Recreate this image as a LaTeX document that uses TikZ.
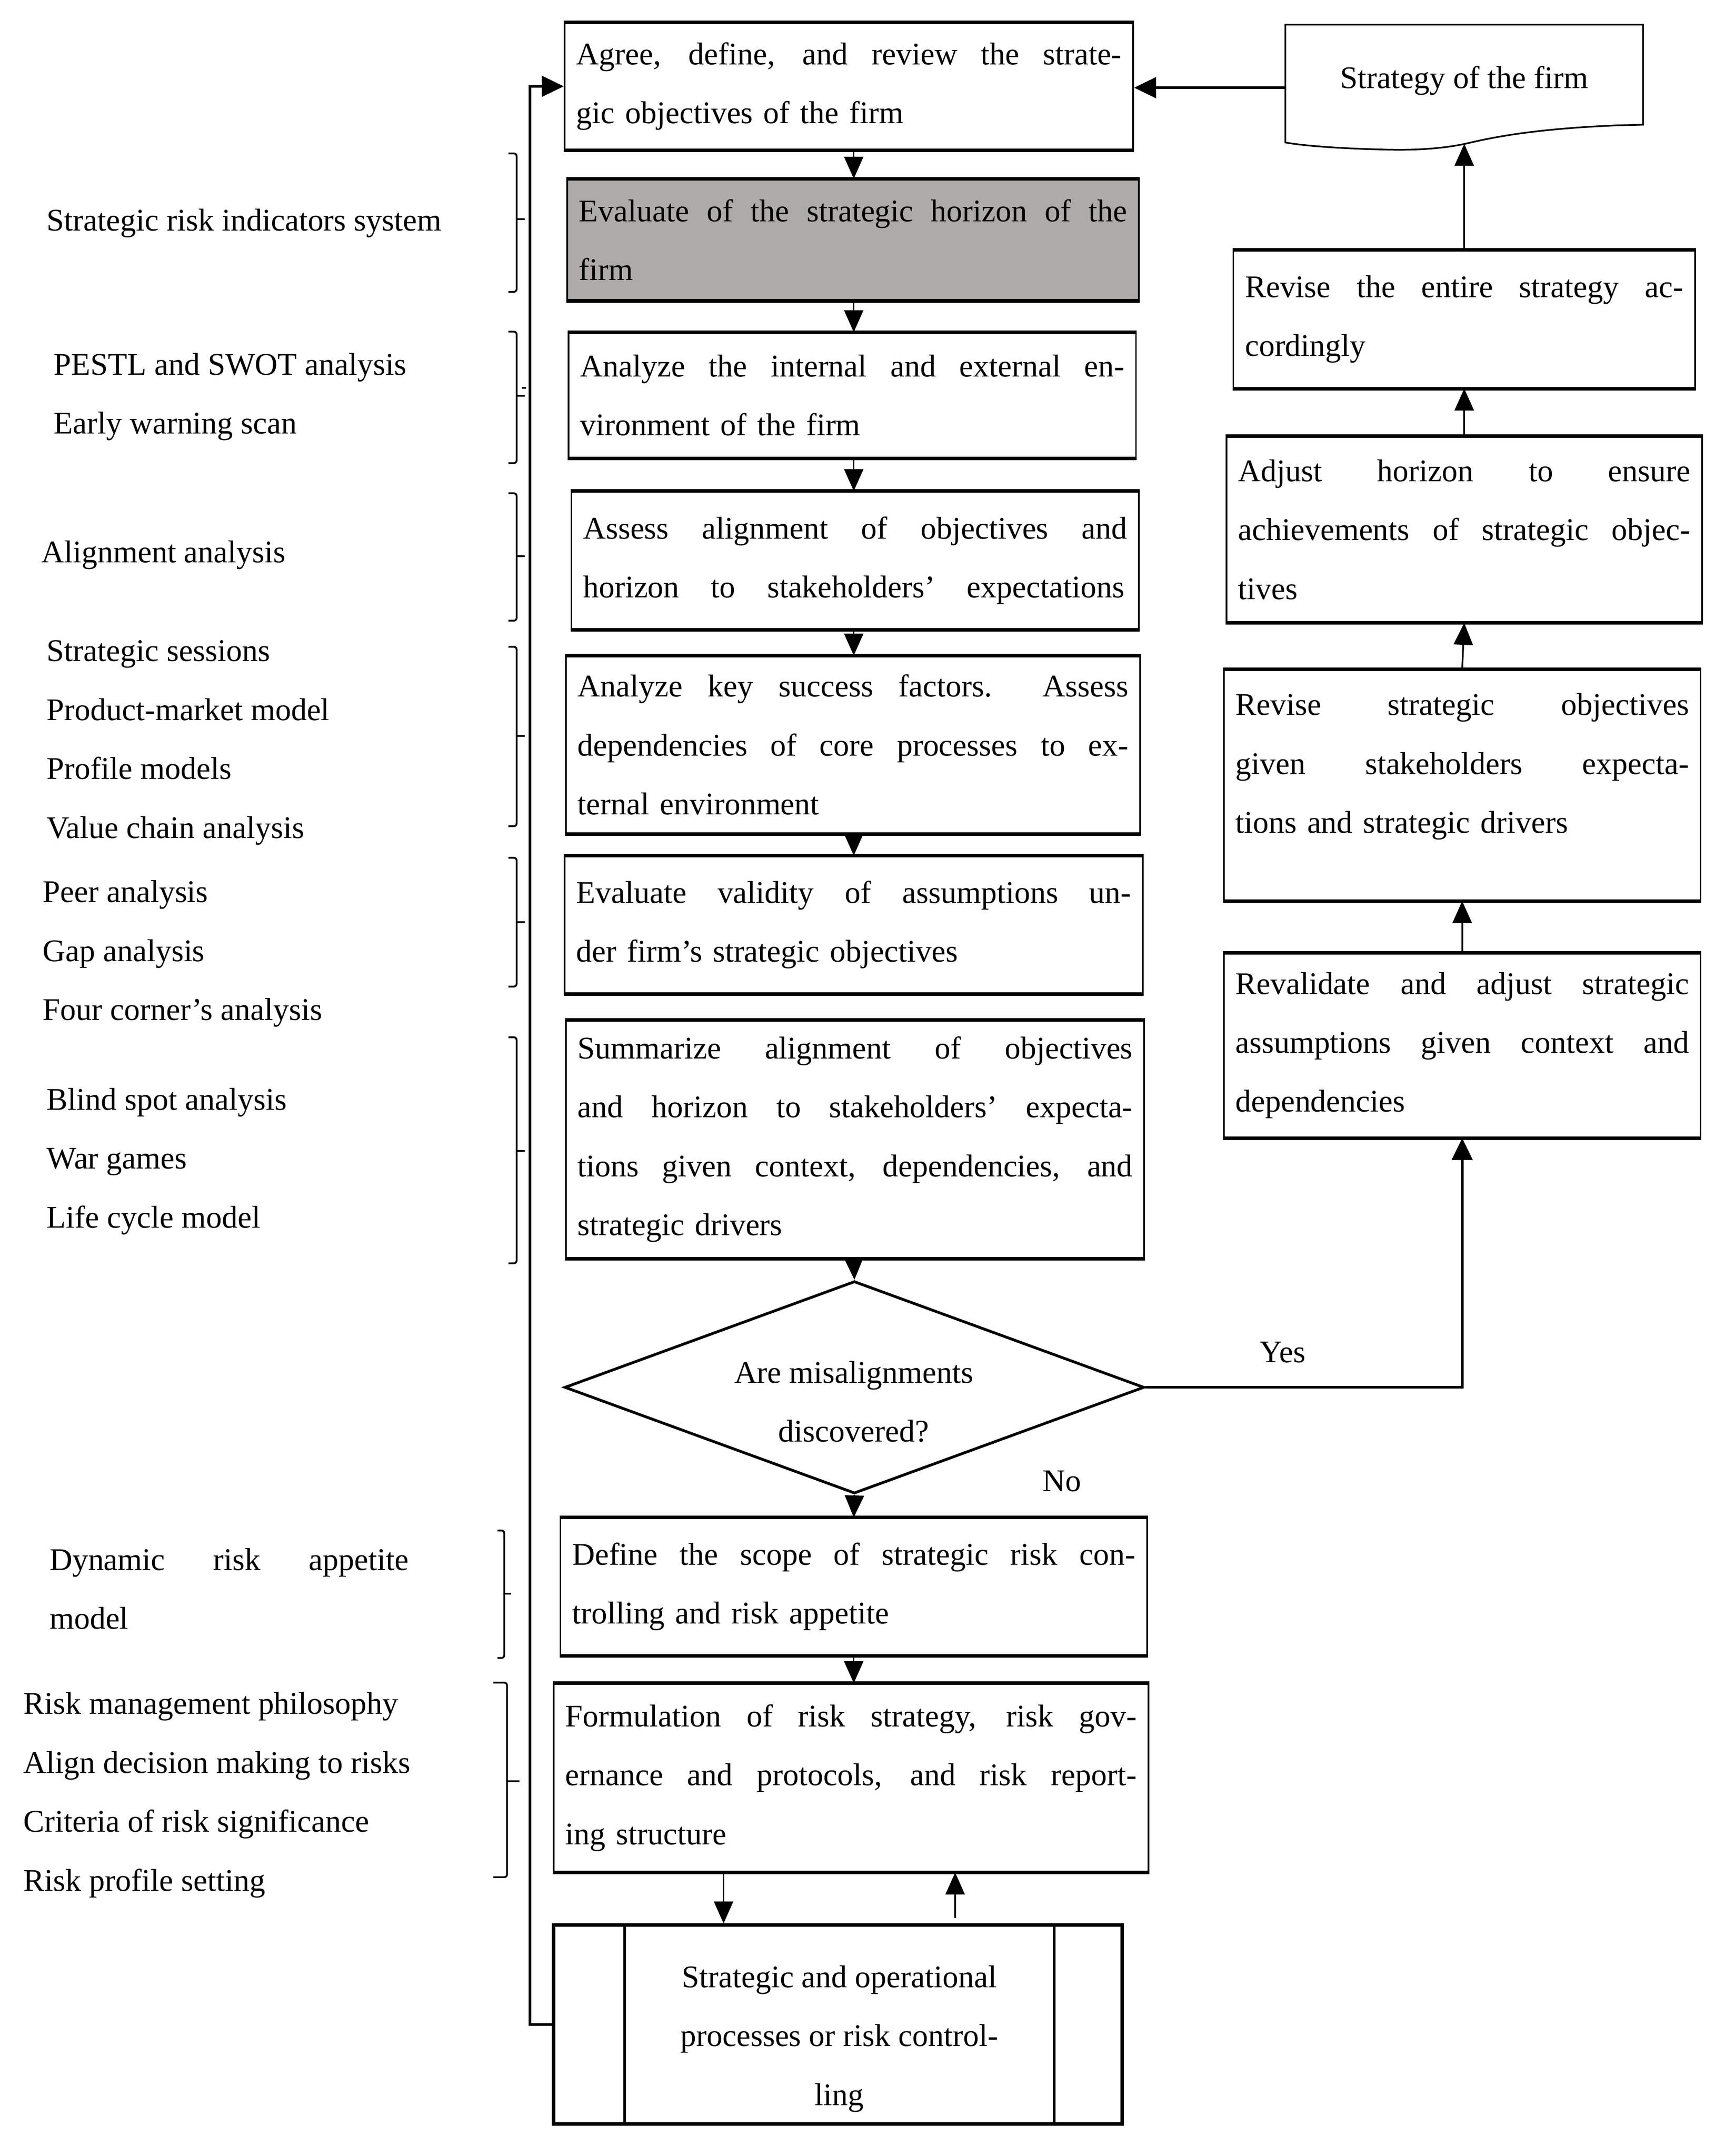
\documentclass[tikz,border=0pt]{standalone}
\usepackage{fontspec}
\setmainfont{Liberation Serif}
\usetikzlibrary{arrows.meta,shapes.geometric}
\newcommand\jline[2]{\leavevmode\hbox to #1{\spaceskip=0.25em plus 1em minus 0.05em\xspaceskip=0.35em plus 1em\relax #2}}
\definecolor{boxgray}{RGB}{174,170,169}
\begin{document}
\begin{tikzpicture}[x=1pt,y=-1pt,
  every node/.style={font=\fontsize{23pt}{43pt}\selectfont},
  box/.style={draw, line width=1.2pt, rectangle, inner xsep=8.5pt, inner ysep=0pt, align=left},
  lbl/.style={inner sep=0pt, anchor=west, align=left},
  con/.style={line width=1pt, -{Triangle[length=16pt,width=14pt]}},
  conthick/.style={line width=2pt, -{Triangle[length=16pt,width=15pt]}},
  brk/.style={line width=1.3pt, rounded corners=2pt},
  edge/.style={line width=2.6pt}
]
\useasboundingbox (0,0) rectangle (1266,1573.5);

% ---------- main column ----------
\node[box, minimum width=415pt, minimum height=92pt, text width=398pt] (b1) at (619.5,63)
  {\jline{398pt}{Agree, define, and review the strate-}\\gic objectives of the firm};
\node[box, fill=boxgray, minimum width=417pt, minimum height=88pt, text width=400pt] (b2) at (622.5,175)
  {\jline{400pt}{Evaluate of the strategic horizon of the}\\firm};
\node[box, minimum width=414pt, minimum height=91pt, text width=397pt] (b3) at (622,288.5)
  {\jline{397pt}{Analyze the internal and external en-}\\vironment of the firm};
\node[box, minimum width=414pt, minimum height=100pt, text width=397pt] (b4) at (624,409)
  {\jline{397pt}{Assess alignment of objectives and}\\\jline{395pt}{horizon to stakeholders' expectations}};
\node[box, minimum width=419pt, minimum height=129pt, text width=402pt] (b5) at (622.5,543.5)
  {\jline{402pt}{Analyze key success factors.\ \ Assess}\\\jline{402pt}{dependencies of core processes to ex-}\\ternal environment};
\node[box, minimum width=422pt, minimum height=100pt, text width=405pt] (b6) at (623,675)
  {\jline{405pt}{Evaluate validity of assumptions un-}\\der firm's strategic objectives};
\node[box, minimum width=422pt, minimum height=173pt, text width=405pt] (b7) at (624,831.5)
  {\jline{405pt}{Summarize alignment of objectives}\\\jline{405pt}{and horizon to stakeholders' expecta-}\\\jline{405pt}{tions given context, dependencies, and}\\strategic drivers};
\node[diamond, draw, line width=2pt, aspect=2.73, minimum width=423pt, minimum height=155pt, inner sep=0pt] (dia) at (623.5,1012.5) {};
\node[inner sep=0pt, align=center] (dtxt) at (623,1023) {Are misalignments\\discovered?};
\node[box, minimum width=428pt, minimum height=100pt, text width=411pt] (b8) at (623,1158)
  {\jline{411pt}{Define the scope of strategic risk con-}\\trolling and risk appetite};
\node[box, minimum width=434pt, minimum height=137pt, text width=417pt] (b9) at (621,1297.5)
  {\jline{417pt}{Formulation of risk strategy, risk gov-}\\\jline{417pt}{ernance and protocols, and risk report-}\\ing structure};
\node[draw, line width=2.5pt, minimum width=415pt, minimum height=145pt, inner sep=0pt] (b10) at (611.5,1477.5) {};
\draw[line width=1.8pt] ([xshift=53pt]b10.north west) -- ([xshift=53pt]b10.south west)
  ([xshift=-51pt]b10.north east) -- ([xshift=-51pt]b10.south east);
\node[inner sep=0pt, align=center] (b10t) at (612.5,1488) {Strategic and operational\\processes or risk control-\\ling};

% ---------- right column ----------
\node[minimum width=261pt, minimum height=92pt, inner sep=0pt, align=center] (r0) at (1068.5,64)
  {Strategy of the firm\rule[-15pt]{0pt}{0pt}};
\draw[line width=1.2pt] (938,18) -- (1199,18) -- (1199,91) -- (1180,91.5)
  .. controls (1120,94) and (1090,100) .. (1069,105)
  .. controls (1045,110) and (1020,109.5) .. (1005,109)
  .. controls (985,108.5) and (955,107) .. (938,104) -- cycle;
\coordinate (r0b) at (1068.5,105);
\node[box, minimum width=337pt, minimum height=100pt, text width=320pt] (r1) at (1068.5,233)
  {\jline{320pt}{Revise the entire strategy ac-}\\cordingly};
\node[box, minimum width=347pt, minimum height=135pt, text width=330pt] (r2) at (1068.5,386.5)
  {\jline{330pt}{Adjust horizon to ensure}\\\jline{330pt}{achievements of strategic objec-}\\tives};
\node[box, minimum width=348pt, minimum height=168pt, text width=331pt] (r3) at (1067,573)
  {\jline{331pt}{Revise strategic objectives}\\\jline{331pt}{given stakeholders expecta-}\\tions and strategic drivers\rule[-32pt]{0pt}{0pt}};
\node[box, minimum width=348pt, minimum height=134pt, text width=331pt] (r4) at (1067,763)
  {\jline{331pt}{Revalidate and adjust strategic}\\\jline{331pt}{assumptions given context and}\\dependencies};

% thick top and bottom edges
\foreach \n in {b1,b2,b3,b4,b5,b6,b7,b8,b9,r1,r2,r3,r4}
  \draw[edge] (\n.north west) -- (\n.north east) (\n.south west) -- (\n.south east);

% ---------- connectors ----------
\coordinate (xm) at (623,0);
\coordinate (xa) at (528,0);
\coordinate (xb) at (697,0);
\draw[con] (b1.south -| xm) -- (b2.north -| xm);
\draw[con] (b2.south -| xm) -- (b3.north -| xm);
\draw[con] (b3.south -| xm) -- (b4.north -| xm);
\draw[con] (b4.south -| xm) -- (b5.north -| xm);
\draw[con] (b5.south -| xm) -- (b6.north -| xm);
\draw[con] (b7.south -| xm) -- (dia.north);
\draw[con] (dia.south) -- (b8.north -| xm);
\draw[con] (b8.south -| xm) -- (b9.north -| xm);
\draw[con] (b9.south -| xa) -- (b10.north -| xa);
\draw[con] ([yshift=4pt]b10.north -| xb) -- (b9.south -| xb);
\draw[conthick] (b10.west) -- ++(-16,0) |- (b1.west);
\draw[conthick] (r0.west) -- (r0.west -| b1.east);
\draw[conthick] (dia.east) -| (r4.south);
\draw[con, line width=1.2pt] (r4.north) -- (r3.south);
\draw[con, line width=1.2pt] (r3.north) -- (r2.south);
\draw[con, line width=1.2pt] (r2.north) -- (r1.south);
\draw[con, line width=1.2pt] (r1.north) -- (r0b);
\node[inner sep=0pt] (yes) at (936,987) {Yes};
\node[inner sep=0pt] (no) at (775,1081) {No};

% ---------- left labels ----------
\node[lbl] (g1) at (34,163) {Strategic risk indicators system};
\node[lbl] (g2) at (39,289.5) {PESTL and SWOT analysis\\Early warning scan};
\node[lbl] (g3) at (30,405) {Alignment analysis};
\node[lbl] (g4) at (34,542) {Strategic sessions\\Product-market model\\Profile models\\Value chain analysis};
\node[lbl] (g5) at (31,696) {Peer analysis\\Gap analysis\\Four corner's analysis};
\node[lbl] (g6) at (34,847.5) {Blind spot analysis\\War games\\Life cycle model};
\node[lbl, text width=262pt] (g7) at (36,1159.5) {\jline{262pt}{Dynamic risk appetite}\\model};
\node[lbl] (g8) at (17,1310) {Risk management philosophy\\Align decision making to risks\\Criteria of risk significance\\Risk profile setting};

% ---------- brackets ----------
\newcommand\drawbrk[6]{\draw[brk] (#5,#2) -- (#1,#2) -- (#1,#3) -- (#5,#3); \draw[brk] (#1,#4) -- (#6,#4);}
\drawbrk{377}{112}{213}{160}{371}{383}
\drawbrk{377}{242}{338}{289}{371}{383}
\draw[line width=1.2pt] (381,283) -- (384,283);
\drawbrk{377}{360}{453}{406}{371}{383}
\drawbrk{377}{472}{603}{537}{371}{383}
\drawbrk{377}{626}{720}{673}{371}{383}
\drawbrk{377}{757}{922}{840}{371}{383}
\drawbrk{368}{1117}{1210}{1163}{363}{373}
\drawbrk{370}{1228}{1370}{1300}{360}{379}
\end{tikzpicture}
\end{document}
